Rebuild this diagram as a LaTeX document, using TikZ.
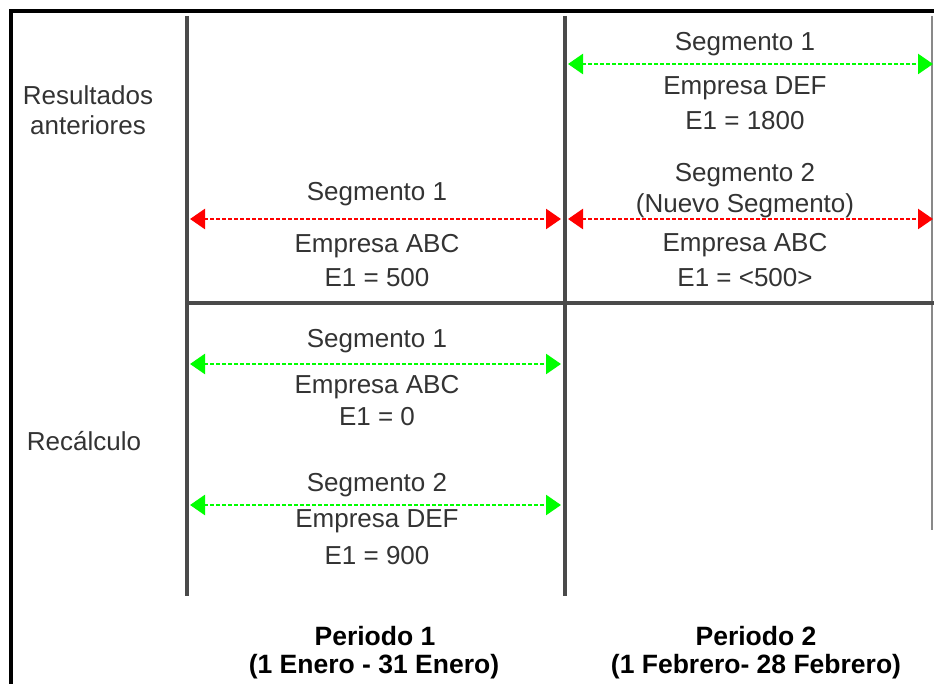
\documentclass[tikz,border=0pt]{standalone}
\usepackage{fontspec}
\setmainfont{Liberation Sans}
\usetikzlibrary{arrows.meta}
\definecolor{txt}{HTML}{333333}
\definecolor{grid}{HTML}{4A4A4A}
\definecolor{grn}{HTML}{00FF00}
\definecolor{rd}{HTML}{FF0000}
\begin{document}
\begin{tikzpicture}[x=1pt,y=-1pt,
  lbl/.style={text=txt,font=\fontsize{26}{31}\selectfont,inner sep=0pt,anchor=center},
  hdr/.style={text=black,font=\fontsize{26.5}{31}\selectfont\bfseries,inner sep=0pt,anchor=center},
  gridline/.style={draw=grid,line width=3.2pt},
  seg/.style={line width=2.6pt,dash pattern=on 4pt off 2pt,{Triangle[length=15pt,width=20pt]}-{Triangle[length=15pt,width=20pt]}},
  gseg/.style={seg,draw=grn,color=grn},
  rseg/.style={seg,draw=rd,color=rd}]
\useasboundingbox (0,0) rectangle (934,684);
% frame
\draw[line width=3.2pt,black] (11,690) -- (11,11) -- (940,11);
% grid
\coordinate (v1t) at (187,16); \coordinate (v1b) at (187,596);
\coordinate (v2t) at (565,16); \coordinate (v2b) at (565,596);
\coordinate (v3t) at (932,16); \coordinate (v3b) at (932,530);
\coordinate (hl) at (187,303); \coordinate (hr) at (940,303);
\draw[gridline] (v1t) -- (v1b);
\draw[gridline] (v2t) -- (v2b);
\draw[draw=grid!65,line width=2.4pt] (v3t) -- (v3b);
\draw[gridline] (hl) -- (hr);
% row labels
\node[lbl,align=center] (res) at (88,110) {Resultados\\[-1pt]anteriores};
\node[lbl] (rec) at (84,441) {Recálculo};
% arrows coordinates
\coordinate (a1l) at (190,219); \coordinate (a1r) at (561,219);
\coordinate (a2l) at (568,219); \coordinate (a2r) at (933,219);
\coordinate (a3l) at (568,64); \coordinate (a3r) at (933,64);
\coordinate (a4l) at (190,364); \coordinate (a4r) at (561,364);
\coordinate (a5l) at (190,505); \coordinate (a5r) at (561,505);
\draw[rseg] (a1l) -- (a1r);
\draw[rseg] (a2l) -- (a2r);
\draw[gseg] (a3l) -- (a3r);
\draw[gseg] (a4l) -- (a4r);
\draw[gseg] (a5l) -- (a5r);
% top-left cell
\node[lbl] (s1a) at (377,194) {Segmento 1};
\node[lbl] (e1a) at (377,246) {Empresa ABC};
\node[lbl] (v1a) at (377,278) {E1 = 500};
% top-right cell
\node[lbl] (s1b) at (745,44) {Segmento 1};
\node[lbl] (e1b) at (745,88) {Empresa DEF};
\node[lbl] (v1b) at (745,121) {E1 = 1800};
\node[lbl] (s2b) at (745,175) {Segmento 2};
\node[lbl] (nsb) at (745,206) {(Nuevo Segmento)};
\node[lbl] (e2b) at (745,245) {Empresa ABC};
\node[lbl] (v2b) at (745,278) {E1 = <500>};
% bottom-left cell
\node[lbl] (s1c) at (377,341) {Segmento 1};
\node[lbl] (e1c) at (377,387) {Empresa ABC};
\node[lbl] (v1c) at (377,417) {E1 = 0};
\node[lbl] (s2c) at (377,485) {Segmento 2};
\node[lbl] (e2c) at (377,521) {Empresa DEF};
\node[lbl] (v2c) at (377,556) {E1 = 900};
% headers
\node[hdr] (p1) at (375,636) {Periodo 1};
\node[hdr] (p1d) at (374,667) {(1 Enero - 31 Enero)};
\node[hdr] (p2) at (756,636) {Periodo 2};
\node[hdr] (p2d) at (756,667) {(1 Febrero- 28 Febrero)};
\end{tikzpicture}
\end{document}
